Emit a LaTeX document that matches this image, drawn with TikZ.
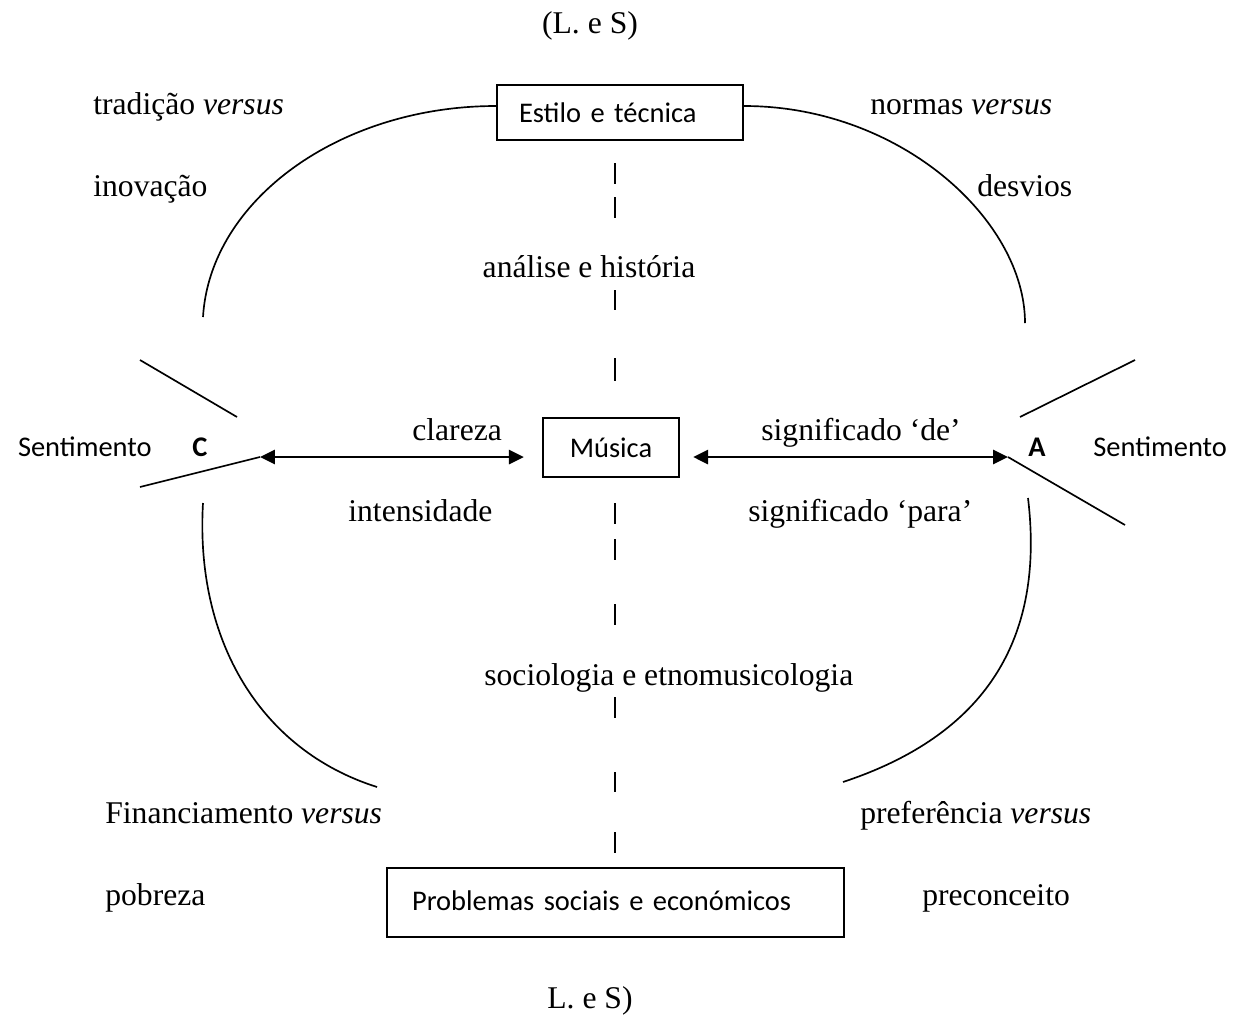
\documentclass[tikz,border=0pt]{standalone}
\usepackage{fontspec}
\setmainfont{Liberation Serif}
\newfontfamily\calibri{Carlito}
\usetikzlibrary{arrows.meta}

\begin{document}
\begin{tikzpicture}[x=0.02cm,y=-0.02cm,
  serif/.style={inner sep=0, font=\fontsize{18}{22}\selectfont},
  sans/.style={inner sep=0, font=\calibri\fontsize{16.2}{20}\selectfont},
  box/.style={draw, line width=1.3pt, inner ysep=0, font=\calibri\fontsize{16.2}{20}\selectfont},
  curve/.style={line width=0.95pt},
  biarrow/.style={line width=1.5pt, {Triangle[length=8.5pt,width=8pt]}-{Triangle[length=8.5pt,width=8pt]}},
  dashmark/.style={line width=1pt}]
\useasboundingbox (0,0) rectangle (1248,1019);

% boxes
\node[box, minimum width=4.92cm, minimum height=1.1cm, inner xsep=0.44cm,
      text width=4.04cm, align=left] (estilo) at (620,112.5) {Estilo e técnica};
\node[box, minimum width=2.72cm, minimum height=1.18cm, inner xsep=0pt] (musica) at (611,447.5) {Música};
\node[box, minimum width=9.14cm, minimum height=1.38cm, inner xsep=0.5cm,
      text width=8.14cm, align=left] (problemas) at (615.5,902.5) {\raisebox{0.06cm}{Problemas sociais e económicos}};

% vertices of the two wedges
\coordinate (cv) at (260,457);
\coordinate (av) at (1008,457);
\coordinate (cup) at (140,360);
\coordinate (cupend) at (237,417);
\coordinate (clow) at (140,487);
\coordinate (aup) at (1135,360);
\coordinate (aupend) at (1020,417);
\coordinate (alow) at (1125,525);

% wedge lines
\draw[curve] (cup) -- (cupend);
\draw[curve] (clow) -- (cv);
\draw[curve] (aupend) -- (aup);
\draw[curve] (av) -- (alow);

% arrows to the central box
\draw[biarrow, shorten >=0.36cm] (cv) -- (musica.west |- cv);
\draw[biarrow, shorten <=0.26cm] (musica.east |- av) -- (av);

% arcs
\coordinate (tlend) at (203,317);
\coordinate (trend) at (1025,323);
\draw[curve] ([yshift=0.13cm]estilo.west) .. controls (340,106) and (210,200) .. (tlend);
\draw[curve] ([yshift=0.13cm]estilo.east) .. controls (900,106) and (1025,220) .. (trend);
\coordinate (blstart) at (203,503);
\coordinate (blend) at (377,787);
\coordinate (brstart) at (1028,498);
\coordinate (brend) at (843,782);
\draw[curve] (blstart) .. controls (195,640) and (260,750) .. (blend);
\draw[curve] (brstart) .. controls (1045,640) and (985,735) .. (brend);

% dashed axis
\foreach \ya/\yb in {163/184,197/218,290/310,358/381,503/524,539/560,604/625,697/718,772/792,832/853}
  \draw[dashmark] (615,\ya) -- (615,\yb);

% serif labels
\node[serif, anchor=base] (lestop) at (590,33) {(L. e S)};
\node[serif, anchor=base] (lesbot) at (590,1008) {L. e S)};
\node[serif, anchor=base west] (tradicao) at (93,114) {tradição \textit{versus}};
\node[serif, anchor=base west] (inovacao) at (93,196) {inovação};
\node[serif, anchor=base west] (normas) at (870,114) {normas \textit{versus}};
\node[serif, anchor=base west] (desvios) at (977,196) {desvios};
\node[serif, anchor=base] (analise) at (589,277) {análise e história};
\node[serif, anchor=base west] (clareza) at (412,440) {clareza};
\node[serif, anchor=base west] (intensidade) at (348,521) {intensidade};
\node[serif, anchor=base west] (sigde) at (761,440) {significado ‘de’};
\node[serif, anchor=base west] (sigpara) at (748,521) {significado ‘para’};
\node[serif, anchor=base west] (socio) at (484,685) {sociologia e etnomusicologia};
\node[serif, anchor=base west] (financ) at (105,823) {Financiamento \textit{versus}};
\node[serif, anchor=base west] (pobreza) at (105,905) {pobreza};
\node[serif, anchor=base west] (prefer) at (860,823) {preferência \textit{versus}};
\node[serif, anchor=base west] (precon) at (922,905) {preconceito};

% sans labels
\node[sans, anchor=base east] (sentc) at (152,456) {Sentimento};
\node[sans, anchor=base, font=\calibri\bfseries\fontsize{16.2}{20}\selectfont] (clab) at (200,456) {C};
\node[sans, anchor=base, font=\calibri\bfseries\fontsize{16.2}{20}\selectfont] (alab) at (1037,456) {A};
\node[sans, anchor=base west] (senta) at (1093,456) {Sentimento};
\end{tikzpicture}
\end{document}
